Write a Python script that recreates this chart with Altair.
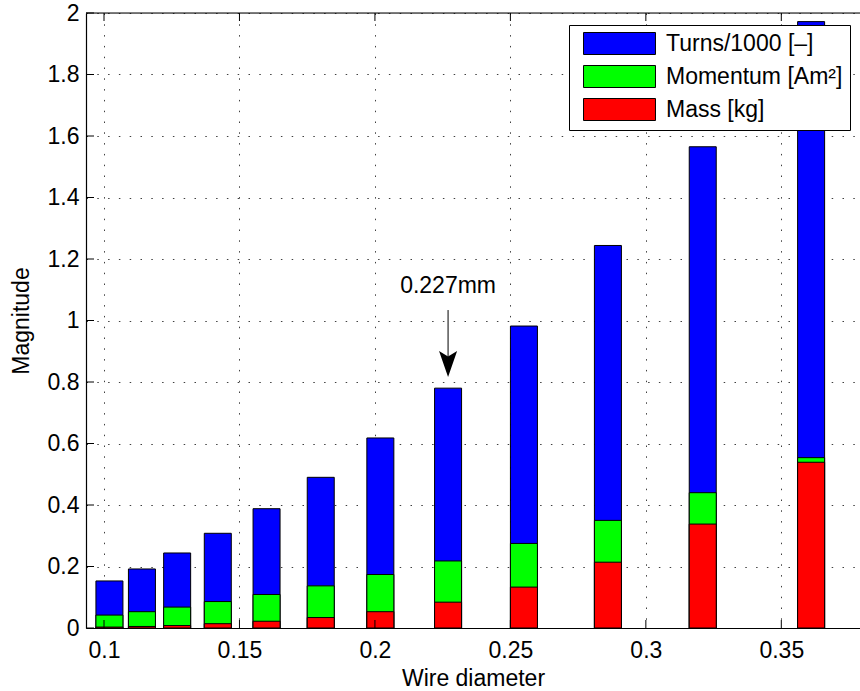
import altair as alt
import pandas as pd

# Wire diameters (mm) of the candidate coil wires
diameter = [0.102, 0.114, 0.127, 0.142, 0.160, 0.180, 0.202, 0.227, 0.255, 0.286, 0.321, 0.361]

# Per-diameter quantities (bars are overlaid, each drawn from zero)
turns_k = [0.153, 0.192, 0.244, 0.308, 0.388, 0.490, 0.618, 0.780, 0.982, 1.244, 1.565, 1.972]
momentum = [0.042, 0.053, 0.068, 0.086, 0.109, 0.137, 0.174, 0.218, 0.275, 0.350, 0.440, 0.554]
mass = [0.003, 0.005, 0.008, 0.014, 0.022, 0.034, 0.053, 0.084, 0.133, 0.214, 0.338, 0.539]

series_names = ["Turns/1000 [–]", "Momentum [Am²]", "Mass [kg]"]
series_colors = ["#0000ff", "#00ff00", "#ff0000"]

x_ticks = [0.1, 0.15, 0.2, 0.25, 0.3, 0.35]
y_ticks = [0, 0.2, 0.4, 0.6, 0.8, 1.0, 1.2, 1.4, 1.6, 1.8, 2.0]

X_DOMAIN = [0.0952, 0.3772]
Y_DOMAIN = [0, 2]

# Annotation for the chosen wire
NOTE_X = 0.227
NOTE_LABEL = "0.227mm"
NOTE_TEXT_Y = 1.089
ARROW_TAIL_Y = 1.034
ARROW_JOIN_Y = 0.85
ARROW_HEAD_Y = 0.861
HEAD_PATH = "M0,1L-0.66,-0.9L0,-0.5L0.66,-0.9Z"

FONT = "Liberation Sans"
FS = 23
PLOT_W, PLOT_H = 774, 615

rows = []
for draw, (name, vals) in enumerate(zip(series_names, [turns_k, momentum, mass])):
    for d, v in zip(diameter, vals):
        rows.append({"diameter": d, "value": v, "series": name, "draw": draw})
bars_df = pd.DataFrame(rows)

x_scale = alt.Scale(domain=X_DOMAIN, nice=False, zero=False)
y_scale = alt.Scale(domain=Y_DOMAIN, nice=False, zero=True)

axis_style = dict(grid=True, gridColor="#000000", gridOpacity=0.75, gridWidth=1,
                  gridDash=[1.5, 9.3], ticks=False, tickSize=0,
                  domain=True, domainColor="black", domainWidth=1.2,
                  labelFont=FONT, labelFontSize=FS, labelColor="black",
                  titleFont=FONT, titleFontSize=FS, titleFontWeight="normal",
                  titleColor="black", labelFlush=False, labelOverlap=False)

x_axis = alt.Axis(values=x_ticks, format="~g", title="Wire diameter",
                  labelPadding=11, titleY=39, titleBaseline="top", **axis_style)
y_axis = alt.Axis(values=y_ticks, format="~g", title="Magnitude",
                  labelPadding=7, titleX=-52.5, titleY=307.5,
                  titleAlign="center", titleBaseline="bottom", **axis_style)

bars = alt.Chart(bars_df).mark_bar(size=27, stroke="black", strokeWidth=1, opacity=1).encode(
    x=alt.X("diameter:Q", scale=x_scale, axis=x_axis),
    y=alt.Y("value:Q", stack=None, scale=y_scale, axis=y_axis),
    color=alt.Color("series:N",
                    scale=alt.Scale(domain=series_names, range=series_colors),
                    legend=alt.Legend(title=None, orient="none", legendX=483, legendY=12,
                                      direction="vertical",
                                      symbolType="M-3.27,-1H3.27V1H-3.27Z", symbolSize=484,
                                      symbolStrokeColor="black", symbolStrokeWidth=1,
                                      symbolOpacity=1, symbolOffset=32, labelOffset=35,
                                      labelFont=FONT, labelFontSize=FS, labelColor="black",
                                      labelLimit=400, padding=7, rowPadding=6,
                                      strokeColor="black", fillColor="white")),
    order=alt.Order("draw:Q"),
)

# Inward tick marks on the bottom, top and left frame edges
xt_df = pd.DataFrame({"diameter": x_ticks})
yt_df = pd.DataFrame({"value": y_ticks})
ticks_bottom = alt.Chart(xt_df).mark_rule(color="black", strokeWidth=1).encode(
    x=alt.X("diameter:Q", scale=x_scale, axis=x_axis),
    y=alt.value(PLOT_H), y2=alt.value(PLOT_H - 8))
ticks_top = alt.Chart(xt_df).mark_rule(color="black", strokeWidth=1).encode(
    x=alt.X("diameter:Q", scale=x_scale, axis=x_axis), y=alt.value(0), y2=alt.value(8))
ticks_left = alt.Chart(yt_df).mark_rule(color="black", strokeWidth=1).encode(
    y=alt.Y("value:Q", scale=y_scale, axis=y_axis), x=alt.value(0), x2=alt.value(8))

# Top frame edge (the right edge lies past the figure's border)
top_edge = alt.Chart(pd.DataFrame({"edge": [0]})).mark_rule(
    color="black", strokeWidth=1.2).encode(
    x=alt.value(0), x2=alt.value(PLOT_W), y=alt.value(0))

note_df = pd.DataFrame({"diameter": [NOTE_X], "label": [NOTE_LABEL],
                        "tail": [ARROW_TAIL_Y], "join": [ARROW_JOIN_Y],
                        "head": [ARROW_HEAD_Y], "text_y": [NOTE_TEXT_Y]})
arrow_line = alt.Chart(note_df).mark_rule(color="black", strokeWidth=1).encode(
    x=alt.X("diameter:Q", scale=x_scale, axis=x_axis),
    y=alt.Y("tail:Q", scale=y_scale, axis=y_axis), y2="join:Q")
arrow_head = alt.Chart(note_df).mark_point(shape=HEAD_PATH, size=750, filled=True,
                                          color="black", opacity=1).encode(
    x=alt.X("diameter:Q", scale=x_scale, axis=x_axis),
    y=alt.Y("head:Q", scale=y_scale, axis=y_axis))
note_text = alt.Chart(note_df).mark_text(font=FONT, fontSize=FS, baseline="alphabetic",
                                         align="center", color="black").encode(
    x=alt.X("diameter:Q", scale=x_scale, axis=x_axis),
    y=alt.Y("text_y:Q", scale=y_scale, axis=y_axis), text="label:N")

chart = alt.layer(bars, ticks_bottom, ticks_top, ticks_left, top_edge,
                  arrow_line, arrow_head, note_text).properties(
    width=PLOT_W, height=PLOT_H,
    padding={"left": 86, "top": 13, "right": 0, "bottom": 63},
    autosize=alt.AutoSizeParams(type="none"),
).configure_view(stroke=None).configure(background="white")

chart.save("out.html", embed_options={"renderer": "svg", "actions": False})
